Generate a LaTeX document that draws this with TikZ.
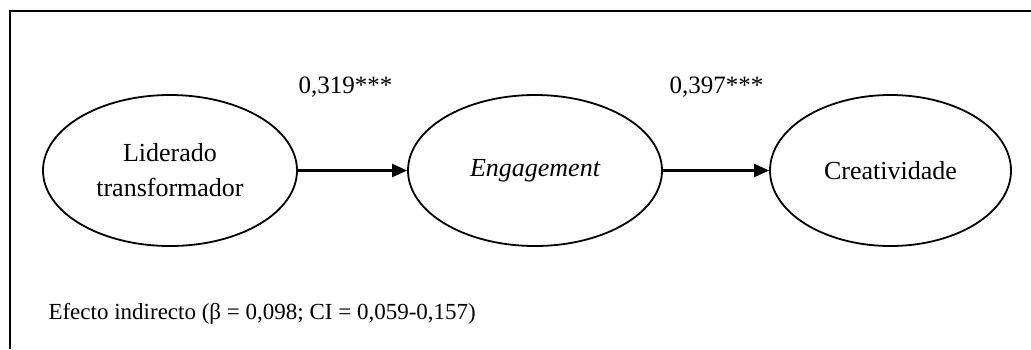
\documentclass[tikz,border=0pt]{standalone}
\usepackage{fontspec}
\setmainfont{Liberation Serif}
\usetikzlibrary{arrows.meta,shapes.geometric}
\begin{document}
\begin{tikzpicture}[x=1pt,y=-1pt,
  latent/.style={draw,ellipse,line width=1.8pt,inner sep=0pt,minimum height=151pt,align=center,font=\fontsize{26}{35}\selectfont},
  path/.style={line width=2.2pt,-{Triangle[length=15pt,width=13pt]}},
  coef/.style={font=\fontsize{25}{28}\selectfont,anchor=base}
]
\useasboundingbox (0,0) rectangle (1031,349);
\draw[line width=2.2pt] (10,349) -- (10,11) -- (1031,11);
\node[latent,minimum width=254pt] (lt) at (170,170.5) {Liderado\\transformador};
\node[latent,minimum width=254pt] (en) at (535,170.5) {\itshape Engagement};
\node[latent,minimum width=241pt] (cr) at (890.5,170.5) {Creatividade};
\draw[path] (lt) -- (en);
\draw[path] (en) -- (cr);
\node[coef] (c1) at (345.5,93) {0,319***};
\node[coef] (c2) at (716.5,93) {0,397***};
\node[coef,anchor=base west,font=\fontsize{23}{26}\selectfont] (ind) at (45,319) {Efecto indirecto (β = 0,098; CI = 0,059-0,157)};
\end{tikzpicture}
\end{document}
